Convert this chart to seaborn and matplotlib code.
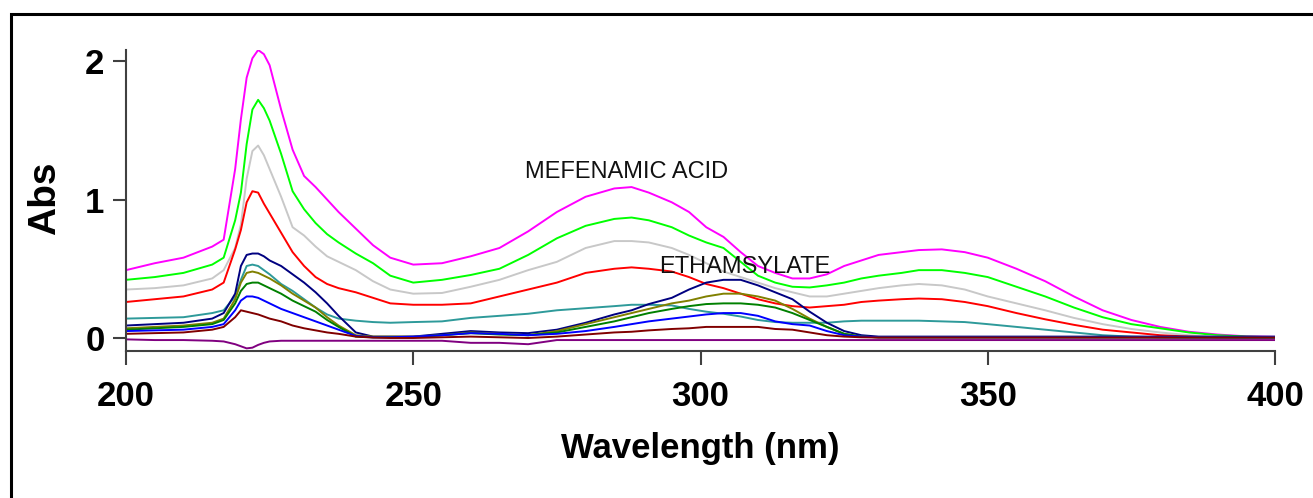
import matplotlib
matplotlib.use("Agg")
import matplotlib.pyplot as plt
import seaborn as sns
import pandas as pd
from matplotlib.patches import Rectangle

# ---------------- data ----------------
wavelength = [200, 205, 210, 215, 217, 219, 220, 221, 222, 223, 224, 225, 227, 229, 231,
              233, 235, 237, 240, 243, 246, 250, 255, 260, 265, 270, 275, 280, 285, 288,
              291, 295, 298, 301, 304, 307, 310, 313, 316, 319, 322, 325, 328, 331, 335,
              338, 342, 346, 350, 355, 360, 365, 370, 375, 380, 385, 390, 395, 400]

mef_magenta = [0.49, 0.54, 0.58, 0.66, 0.71, 1.22, 1.58, 1.88, 2.02, 2.08, 2.05, 1.97, 1.65, 1.36, 1.17,
               1.09, 1.00, 0.91, 0.79, 0.67, 0.58, 0.53, 0.54, 0.59, 0.65, 0.77, 0.91, 1.02, 1.08, 1.09,
               1.05, 0.98, 0.91, 0.80, 0.73, 0.62, 0.52, 0.47, 0.43, 0.43, 0.46, 0.52, 0.56, 0.60, 0.62,
               0.635, 0.64, 0.62, 0.58, 0.50, 0.41, 0.30, 0.20, 0.13, 0.08, 0.045, 0.025, 0.012, 0.008]
mef_lime = [0.42, 0.44, 0.47, 0.53, 0.58, 0.85, 1.05, 1.40, 1.65, 1.72, 1.66, 1.57, 1.33, 1.06, 0.93,
            0.83, 0.75, 0.69, 0.61, 0.54, 0.45, 0.40, 0.42, 0.455, 0.50, 0.60, 0.72, 0.81, 0.86, 0.87,
            0.85, 0.80, 0.74, 0.69, 0.65, 0.55, 0.45, 0.40, 0.37, 0.365, 0.38, 0.40, 0.43, 0.45, 0.47,
            0.49, 0.49, 0.47, 0.44, 0.37, 0.30, 0.22, 0.15, 0.10, 0.07, 0.04, 0.02, 0.01, 0.005]
mef_gray = [0.35, 0.36, 0.38, 0.43, 0.49, 0.65, 0.82, 1.15, 1.35, 1.39, 1.32, 1.22, 1.02, 0.80, 0.74,
            0.66, 0.59, 0.55, 0.49, 0.41, 0.35, 0.32, 0.325, 0.37, 0.42, 0.49, 0.55, 0.65, 0.70, 0.70,
            0.69, 0.65, 0.60, 0.54, 0.48, 0.44, 0.40, 0.36, 0.33, 0.30, 0.30, 0.32, 0.34, 0.36, 0.38,
            0.39, 0.38, 0.35, 0.30, 0.25, 0.20, 0.145, 0.10, 0.065, 0.04, 0.02, 0.01, 0.005, 0.003]
mef_red = [0.26, 0.28, 0.30, 0.35, 0.40, 0.64, 0.78, 0.98, 1.06, 1.05, 0.97, 0.90, 0.76, 0.62, 0.52,
           0.44, 0.39, 0.36, 0.33, 0.29, 0.25, 0.24, 0.24, 0.25, 0.30, 0.35, 0.40, 0.47, 0.50, 0.51,
           0.50, 0.48, 0.44, 0.39, 0.36, 0.32, 0.28, 0.25, 0.23, 0.22, 0.23, 0.24, 0.26, 0.27, 0.28,
           0.285, 0.28, 0.26, 0.23, 0.18, 0.135, 0.095, 0.06, 0.04, 0.02, 0.01, 0.005, 0.003, 0.002]
mef_teal = [0.14, 0.145, 0.15, 0.18, 0.20, 0.30, 0.42, 0.52, 0.53, 0.52, 0.49, 0.46, 0.39, 0.34, 0.28,
            0.22, 0.17, 0.14, 0.125, 0.115, 0.11, 0.115, 0.12, 0.145, 0.16, 0.175, 0.20, 0.215, 0.23, 0.24,
            0.24, 0.235, 0.21, 0.19, 0.175, 0.155, 0.13, 0.115, 0.11, 0.11, 0.11, 0.12, 0.125, 0.125, 0.125,
            0.125, 0.12, 0.115, 0.10, 0.08, 0.06, 0.04, 0.02, 0.01, 0.005, 0.003, 0.002, 0.001, 0.0]
eth_navy = [0.09, 0.10, 0.11, 0.14, 0.18, 0.32, 0.52, 0.60, 0.61, 0.61, 0.59, 0.56, 0.52, 0.46, 0.40,
            0.33, 0.25, 0.16, 0.04, 0.01, 0.01, 0.01, 0.03, 0.05, 0.04, 0.035, 0.06, 0.11, 0.17, 0.20,
            0.245, 0.29, 0.35, 0.40, 0.42, 0.42, 0.38, 0.33, 0.28, 0.19, 0.11, 0.05, 0.02, 0.01, 0.01,
            0.01, 0.01, 0.01, 0.01, 0.01, 0.01, 0.01, 0.01, 0.01, 0.01, 0.01, 0.01, 0.01, 0.01]
eth_olive = [0.07, 0.08, 0.09, 0.11, 0.14, 0.28, 0.40, 0.47, 0.48, 0.47, 0.45, 0.43, 0.38, 0.32, 0.27,
             0.22, 0.15, 0.09, 0.02, 0.01, 0.01, 0.01, 0.02, 0.04, 0.03, 0.02, 0.05, 0.10, 0.15, 0.18,
             0.21, 0.25, 0.27, 0.30, 0.32, 0.32, 0.30, 0.27, 0.21, 0.14, 0.08, 0.03, 0.01, 0.005, 0.005,
             0.005, 0.005, 0.005, 0.005, 0.005, 0.005, 0.005, 0.005, 0.005, 0.005, 0.005, 0.005, 0.005, 0.005]
eth_green = [0.06, 0.07, 0.08, 0.10, 0.13, 0.25, 0.34, 0.39, 0.40, 0.40, 0.38, 0.36, 0.32, 0.27, 0.23,
             0.19, 0.13, 0.08, 0.01, 0.005, 0.005, 0.005, 0.02, 0.035, 0.025, 0.02, 0.04, 0.08, 0.12, 0.15,
             0.18, 0.21, 0.23, 0.245, 0.25, 0.25, 0.24, 0.22, 0.18, 0.13, 0.08, 0.03, 0.01, 0.005, 0.005,
             0.005, 0.005, 0.005, 0.005, 0.005, 0.005, 0.005, 0.005, 0.005, 0.005, 0.005, 0.005, 0.005, 0.005]
eth_blue = [0.05, 0.055, 0.06, 0.08, 0.10, 0.20, 0.27, 0.30, 0.30, 0.29, 0.27, 0.25, 0.21, 0.18, 0.15,
            0.12, 0.09, 0.06, 0.015, 0.005, 0.005, 0.01, 0.02, 0.035, 0.03, 0.02, 0.03, 0.05, 0.08, 0.10,
            0.12, 0.14, 0.155, 0.17, 0.18, 0.18, 0.16, 0.12, 0.10, 0.09, 0.05, 0.02, 0.01, 0.005, 0.005,
            0.005, 0.005, 0.005, 0.005, 0.005, 0.005, 0.005, 0.005, 0.005, 0.005, 0.005, 0.005, 0.005, 0.005]
eth_maroon = [0.03, 0.035, 0.04, 0.06, 0.08, 0.15, 0.20, 0.19, 0.18, 0.17, 0.155, 0.14, 0.12, 0.09, 0.07,
              0.055, 0.04, 0.03, 0.01, 0.003, 0.0, 0.0, 0.005, 0.01, 0.005, 0.0, 0.01, 0.025, 0.04, 0.045,
              0.055, 0.065, 0.07, 0.08, 0.08, 0.08, 0.08, 0.065, 0.06, 0.04, 0.02, 0.01, 0.005, 0.003, 0.003,
              0.003, 0.003, 0.003, 0.003, 0.003, 0.003, 0.003, 0.003, 0.003, 0.003, 0.003, 0.003, 0.003, 0.003]
blank_purple = [-0.01, -0.015, -0.015, -0.02, -0.025, -0.045, -0.06, -0.075, -0.07, -0.05, -0.035, -0.025, -0.02, -0.02, -0.02,
                -0.02, -0.02, -0.02, -0.02, -0.02, -0.02, -0.02, -0.02, -0.035, -0.035, -0.045, -0.015, -0.015, -0.015, -0.015,
                -0.015, -0.015, -0.015, -0.015, -0.015, -0.015, -0.015, -0.015, -0.015, -0.015, -0.015, -0.015, -0.015, -0.015, -0.015,
                -0.015, -0.015, -0.015, -0.015, -0.015, -0.015, -0.015, -0.015, -0.015, -0.015, -0.015, -0.015, -0.015, -0.015]

series_names = ["mef_magenta", "mef_lime", "mef_gray", "mef_red", "mef_teal",
                "eth_navy", "eth_olive", "eth_green", "eth_blue", "eth_maroon", "blank_purple"]
series_values = [mef_magenta, mef_lime, mef_gray, mef_red, mef_teal,
                 eth_navy, eth_olive, eth_green, eth_blue, eth_maroon, blank_purple]
series_colors = ["#FF00FF", "#00FF00", "#C8C8C8", "#FF0000", "#2E9A9A",
                 "#000080", "#808000", "#008000", "#0000FF", "#800000", "#800080"]

x_ticks = [200, 250, 300, 350, 400]
y_ticks = [0, 1, 2]
x_label = "Wavelength (nm)"
y_label = "Abs"
annotations = [("MEFENAMIC ACID", 269.5, 1.155), ("ETHAMSYLATE", 292.8, 0.471)]

# ---------------- style ----------------
sns.set_style("white")
plt.rcParams["font.family"] = ["Liberation Sans", "DejaVu Sans"]

W, H = 1313, 498
fig = plt.figure(figsize=(W / 100, H / 100), dpi=100)
ax = fig.add_axes([126 / W, 1 - 351 / H, (1275 - 126) / W, (351 - 50) / H])

frames = []
for name, vals in zip(series_names, series_values):
    frames.append(pd.DataFrame({"Wavelength": wavelength, "Abs": vals, "Series": name}))
df = pd.concat(frames, ignore_index=True)

sns.lineplot(data=df, x="Wavelength", y="Abs", hue="Series", hue_order=series_names,
             palette=dict(zip(series_names, series_colors)), estimator=None, sort=False,
             linewidth=1.4, legend=False, ax=ax)

ax.set_xlim(200, 400)
ax.set_ylim(-0.094, 2.08)
ax.set_xticks(x_ticks)
ax.set_yticks(y_ticks)
ax.set_xticklabels([str(t) for t in x_ticks], fontsize=25, fontweight="bold", color="black")
ax.set_yticklabels([str(t) for t in y_ticks], fontsize=25, fontweight="bold", color="black")
ax.tick_params(axis="y", direction="out", length=9.5, width=1.5, color="#404040", pad=6, left=True)
ax.tick_params(axis="x", direction="out", length=10, width=1.5, color="#404040", pad=11, bottom=True)

for side in ["top", "right"]:
    ax.spines[side].set_visible(False)
for side in ["left", "bottom"]:
    ax.spines[side].set_color("#404040")
    ax.spines[side].set_linewidth(1.5)

ax.set_xlabel(x_label, fontsize=25, fontweight="bold", color="black")
ax.xaxis.set_label_coords(0.5, -0.27)
ax.set_ylabel(y_label, fontsize=28, fontweight="bold", color="black")
ax.yaxis.set_label_coords(-0.055, 0.508)

for txt, xv, yv in annotations:
    ax.text(xv, yv, txt, fontsize=17, ha="left", va="baseline", color="#111111")

# outer frame
fig.patches.append(Rectangle((10.5 / W, -0.2), 2.0, 1.2 - 14 / H, transform=fig.transFigure,
                             fill=False, edgecolor="black", linewidth=2.2, clip_on=False))

fig.savefig("out.png", dpi=100)
